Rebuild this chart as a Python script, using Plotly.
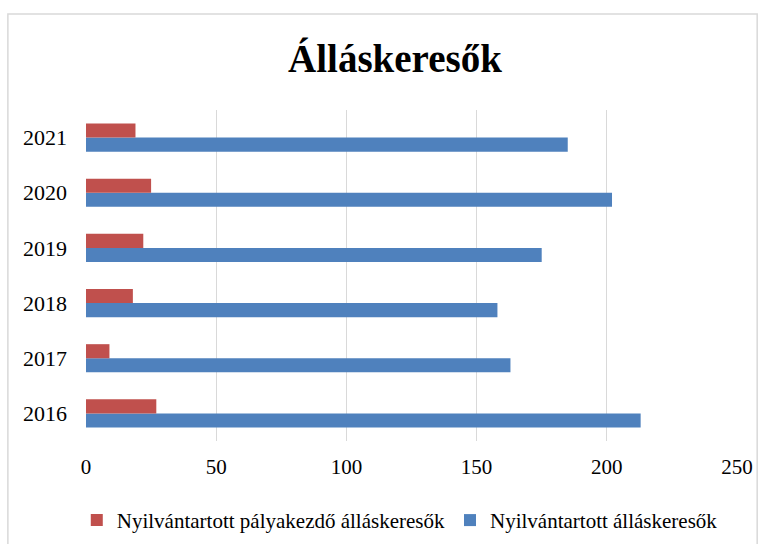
import plotly.graph_objects as go

# Data
years = ["2016", "2017", "2018", "2019", "2020", "2021"]
palyakezdo = [27, 9, 18, 22, 25, 19]
osszes = [213, 163, 158, 175, 202, 185]

red = "#C0504D"
blue = "#4F81BD"
serif = "Liberation Serif, Times New Roman, serif"

fig = go.Figure()

# blue first so it sits below the red bar within each group
fig.add_trace(go.Bar(
    y=years, x=osszes, orientation="h",
    name="Nyilvántartott álláskeresők",
    marker=dict(color=blue, line=dict(width=0)),
    legendrank=2,
))
fig.add_trace(go.Bar(
    y=years, x=palyakezdo, orientation="h",
    name="Nyilvántartott pályakezdő álláskeresők",
    marker=dict(color=red, line=dict(width=0)),
    legendrank=1,
))

fig.update_layout(
    width=767, height=544,
    margin=dict(l=86, r=30, t=110, b=103, autoexpand=False),
    paper_bgcolor="white", plot_bgcolor="white",
    barmode="group", bargap=0.49, bargroupgap=0,
    title=dict(text="<b>Álláskeresők</b>", x=0.515, xanchor="center",
               y=0.893, yanchor="middle",
               font=dict(family=serif, size=39, color="black")),
    font=dict(family=serif, color="black"),
    xaxis=dict(range=[0, 250], dtick=50, showgrid=True, gridcolor="#d9d9d9",
               gridwidth=1, zeroline=False, showline=False,
               ticklabelstandoff=11,
               tickfont=dict(size=21, family=serif, color="black"), ticks=""),
    yaxis=dict(showgrid=False, showline=False, ticks="", ticklabelstandoff=18,
               tickfont=dict(size=22, family=serif, color="black")),
    legend=dict(orientation="h", x=0.482, xanchor="center", y=-0.24,
                yanchor="middle", font=dict(size=21, family=serif, color="black"),
                itemwidth=30, traceorder="normal"),
    shapes=[dict(type="rect", xref="paper", yref="paper",
                 x0=-0.12, x1=1.031, y0=-0.4, y1=1.29,
                 line=dict(color="#d9d9d9", width=1.5), layer="below")],
)

fig.write_html("out.html", config={"displayModeBar": False},
               post_script="document.body.style.margin='0';")
